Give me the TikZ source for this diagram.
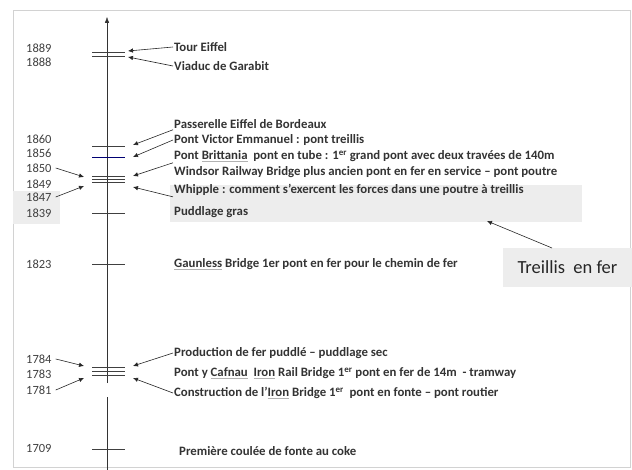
\documentclass[tikz,border=0pt]{standalone}
\usepackage{fontspec}
\setmainfont{Carlito}
\usetikzlibrary{arrows, arrows.meta}

\newcommand{\squig}[1]{\textcolor{gray!60}{\underline{\textcolor{black!80}{#1}}}}

\tikzset{
  evt/.style={anchor=west, inner sep=1pt, text=black!80,
    font=\bfseries\fontsize{12.8}{15}\selectfont},
  yr/.style={anchor=west, inner sep=0pt, text=black!75,
    font=\fontsize{12.5}{14}\selectfont},
  yeartick/.style={black!75, thin},
  ptr/.style={-{Latex[length=5pt,width=4.5pt]}, semithick, black!85},
  shade/.style={fill=gray!14, draw=none},
}

\begin{document}
\begin{tikzpicture}[x=1pt, y=-1pt]
  \useasboundingbox (0,0) rectangle (632,470);
  % Frame of the slide
  \draw[gray!35] (13,10) rectangle (630,467);
  % Grey shaded areas
  \fill[shade] (13,191) rectangle (60,224);
  \fill[shade] (170,185) rectangle (582,222);
  % Time axis (with a break near the bottom)
  \draw[-{Latex[length=6pt,width=4.5pt]}, black!80] (107,383) -- (107,17);
  \draw[black!80] (107,470) -- (107,397);
  % Year ticks
  \foreach \y in {52,56,146,176,179,182,213,264,367,371,375,449}
    \draw[yeartick] (92,\y) -- (125,\y);
  \draw[yeartick, blue!45!black] (92,157) -- (125,157);

  % Years
  \node[yr] (y1889) at (26,48) {1889};
  \node[yr] (y1888) at (26,62) {1888};
  \node[yr] (y1860) at (26,139) {1860};
  \node[yr] (y1856) at (26,153) {1856};
  \node[yr] (y1850) at (26,168) {1850};
  \node[yr] (y1849) at (26,184) {1849};
  \node[yr] (y1847) at (26,197) {1847};
  \node[yr] (y1839) at (26,213) {1839};
  \node[yr] (y1823) at (26,264) {1823};
  \node[yr] (y1784) at (26,359) {1784};
  \node[yr] (y1783) at (26,374) {1783};
  \node[yr] (y1781) at (26,390) {1781};
  \node[yr] (y1709) at (26,448) {1709};

  % Events
  \node[evt] (eiffel) at (173,47) {Tour Eiffel};
  \node[evt] (garabit) at (173,66) {Viaduc de Garabit};
  \node[evt] (passerelle) at (173,124) {Passerelle Eiffel de Bordeaux};
  \node[evt] (victor) at (173,140) {Pont Victor Emmanuel : pont treillis};
  \node[evt] (brittania) at (173,156) {Pont \squig{Brittania}\ \ pont en tube : 1\textsuperscript{er} grand pont avec deux travées de 140m};
  \node[evt] (windsor) at (173,172) {Windsor Railway Bridge plus ancien pont en fer en service -- pont poutre};
  \node[evt] (whipple) at (173,190) {Whipple : comment s’exercent les forces dans une poutre à treillis};
  \node[evt] (puddlage) at (173,212) {Puddlage gras};
  \node[evt] (gaunless) at (173,264) {\squig{Gaunless} Bridge 1er pont en fer pour le chemin de fer};
  \node[evt] (production) at (173,353) {Production de fer puddlé -- puddlage sec};
  \node[evt] (cafnau) at (173,373) {Pont y \squig{Cafnau}\ \ \squig{Iron} Rail Bridge 1\textsuperscript{er} pont en fer de 14m\ \ - tramway};
  \node[evt] (ironbridge) at (173,393) {Construction de l’\squig{Iron} Bridge 1\textsuperscript{er}\ \ pont en fonte -- pont routier};
  \node[evt] (coke) at (178,451) {Première coulée de fonte au coke};

  % Treillis label
  \node[fill=gray!14, minimum width=129pt, minimum height=39pt, text=black!85,
    font=\fontsize{18.5}{20}\selectfont] (treillis) at (567.5,267.5) {Treillis\ \ en fer};

  % Arrow tips
  \coordinate (t1889) at (128,51);
  \coordinate (t1888) at (128,57);
  \coordinate (t1860) at (133,145);
  \coordinate (t1856) at (133,157);
  \coordinate (t1850) at (133,176);
  \coordinate (t1847) at (133,187);
  \coordinate (l1850) at (84,177);
  \coordinate (l1847) at (84,186);
  \coordinate (t1784) at (133,366);
  \coordinate (t1781) at (133,378);
  \coordinate (l1784) at (84,366);
  \coordinate (l1781) at (84,378);
  \coordinate (tshade) at (487,221);
  \coordinate (streillis) at (552,248);

  % Arrows
  \draw[ptr] (eiffel.west) -- (t1889);
  \draw[ptr] (garabit.west) -- (t1888);
  \draw[ptr] (passerelle.south west) -- (t1860);
  \draw[ptr] (victor.west) -- (t1856);
  \draw[ptr] (brittania.south west) -- (t1850);
  \draw[ptr] (whipple.south west) -- (t1847);
  \draw[ptr] ([xshift=4pt]y1850.east) -- (l1850);
  \draw[ptr] ([xshift=4pt]y1847.east) -- (l1847);
  \draw[ptr] (production.west) -- (t1784);
  \draw[ptr] (ironbridge.west) -- (t1781);
  \draw[ptr] ([xshift=4pt]y1784.east) -- (l1784);
  \draw[ptr] ([xshift=4pt]y1781.east) -- (l1781);
  \draw[ptr] (streillis) -- (tshade);
\end{tikzpicture}
\end{document}
